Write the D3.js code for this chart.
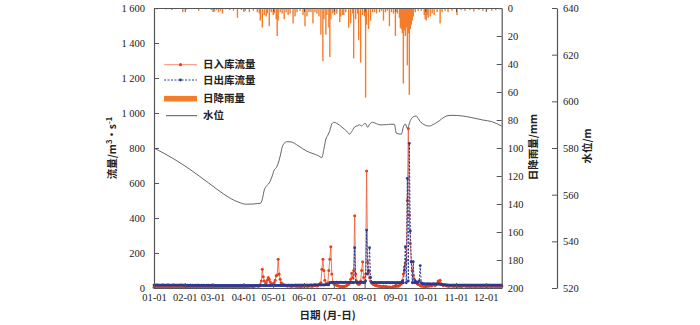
<!DOCTYPE html>
<html><head><meta charset="utf-8">
<script src="https://cdn.jsdelivr.net/npm/d3@7/dist/d3.min.js"></script>
<style>body{margin:0;background:#fff}svg{display:block}</style>
</head><body>
<svg id="c" width="700" height="325"></svg>
<script>
// ---- data ----
const monthLabels = ["01-01","02-01","03-01","04-01","05-01","06-01","07-01","08-01","09-01","10-01","11-01","12-01"];
const monthStartDays = [0,31,59,90,120,151,181,212,243,273,304,334];
const flowTicks = [0,200,400,600,800,1000,1200,1400,1600];
const flowTickLabels = ["0","200","400","600","800","1 000","1 200","1 400","1 600"];
const rainTicks = [0,20,40,60,80,100,120,140,160,180,200];
const levelTicks = [520,540,560,580,600,620,640];

// daily inflow (m3/s), from 01-01
const inflow = [
 5,5,4,5,6,5,4,4,5,5,6,5,4,5,5,4,5,6,5,5,4,4,5,5,6,5,4,5,5,4,5,
 4,5,5,4,4,5,6,5,4,5,5,4,4,5,5,6,5,4,4,5,5,4,5,5,4,5,6,5,
 5,4,5,5,6,5,4,4,5,6,5,5,4,5,5,6,5,4,5,5,6,6,5,5,4,5,6,6,5,6,7,
 7,6,8,8,7,9,10,12,10,9,8,10,12,15,12,10,12,20,40,107,65,40,20,30,45,60,50,35,25,20,
 25,30,45,70,75,164,80,50,30,25,20,18,15,15,12,12,15,12,10,10,12,14,12,10,10,12,10,10,9,10,12,
 12,15,12,10,10,12,14,12,10,12,15,18,15,12,15,20,25,30,107,165,100,45,25,20,30,100,164,236,80,35,
 25,20,18,15,15,12,10,8,8,10,8,10,12,15,20,22,30,50,84,60,100,413,80,40,25,20,25,40,100,150,60,
 30,80,668,150,90,60,40,30,25,20,18,15,15,12,12,10,10,8,8,10,8,6,8,6,5,6,5,5,6,8,10,
 12,15,12,10,15,20,25,40,80,120,140,160,500,912,417,255,150,100,70,50,40,30,25,20,18,15,12,12,10,10,
 10,10,12,10,12,15,12,15,20,18,15,20,25,40,30,45,25,20,15,18,20,15,12,12,10,12,15,12,10,10,12,
 12,10,10,12,10,8,10,12,15,12,10,10,12,10,8,10,10,12,10,10,8,10,12,10,10,8,10,10,12,10,
 10,8,10,12,10,10,8,10,12,10,8,10,10,8,10,10,10
];
// daily outflow (m3/s)
const outflow = [
 17,16,17,18,17,16,17,17,16,18,17,16,17,17,18,16,17,17,16,17,18,17,16,17,17,16,17,18,17,16,17,
 16,16,15,16,15,16,16,15,16,15,15,16,15,16,16,15,15,16,15,16,15,15,16,15,16,15,15,16,
 15,15,14,15,15,14,15,15,14,15,14,15,15,14,15,14,15,15,14,15,15,14,15,14,15,15,14,15,14,15,15,
 14,14,15,14,14,15,14,14,15,14,14,15,14,14,15,14,14,15,14,14,15,14,14,15,14,14,15,14,14,15,
 15,14,15,15,14,15,15,14,15,15,14,15,15,16,15,16,16,15,16,16,15,16,16,17,16,16,17,16,16,17,16,
 17,16,17,17,16,17,17,18,17,17,18,17,18,18,17,18,18,17,18,18,17,18,18,19,18,18,30,32,31,32,
 32,31,32,33,32,31,32,33,32,32,31,32,33,32,32,31,32,33,32,32,30,230,35,30,31,32,31,32,33,32,31,
 32,40,331,80,100,230,60,32,31,32,31,32,30,31,32,30,31,32,31,30,31,30,31,32,30,31,30,31,30,31,30,
 30,31,30,31,30,31,30,40,30,100,236,30,627,40,827,326,150,30,150,30,40,30,30,35,40,128,30,25,25,24,
 24,23,23,24,23,23,22,23,24,23,23,22,23,23,22,21,20,19,18,18,17,17,18,17,17,16,17,17,16,17,17,
 17,16,17,17,16,17,17,16,17,17,16,17,17,16,17,17,16,17,17,16,17,17,16,17,17,16,17,17,16,17,
 17,16,17,17,16,17,17,16,17,17,16,17,17,16,17,17,16
];
// daily rainfall (mm): day of year, amount
const rainDay = [3,8,12,18,22,29,33,38,45,52,58,61,63,65,67,69,72,76,80,84,88,92,96,100,104,106,107,109,111,113,114,116,118,120,121,123,124,125,127,129,131,133,135,137,140,142,144,147,150,152,154,156,158,160,162,164,166,168,170,171,173,174,176,177,178,180,182,184,187,188,190,191,193,196,198,200,201,203,205,206,208,210,212,213,214,216,218,220,222,224,227,229,231,233,235,237,239,241,243,245,247,248,249,250,251,252,253,254,255,256,257,258,259,260,261,263,266,269,272,273,274,275,276,278,280,282,285,288,290,293,296,300,305,309,313,318,322,327,331,336,340,344,348];
const rainMm = [1,0.6,1,1.5,0.8,3,1,0.8,2,1,1.5,2.5,1.5,3,2,4,1,1.5,2,7,1.5,2,3,2,3,4,9,14,5,6,4,13,3,5,4,8,20,9,3,4,8,3,5,4,11,6,3,2,5,13,6,3,3,11,3,4,6,19,38,8,19,5,14,35,8,4,5,4,10,6,5,5,3,14,11,4,36,8,4,23,39,5,6,64,12,15,9,3,3,4,3,2,9,3,2,13,3,4,20,4,7,14,15,18,54,16,20,14,41,18,62,15,12,9,6,3,2,2,5,8,9,5,7,6,4,5,3,11,3,2,3,2,5,1.5,2,1.5,2.5,1.5,2,1,2,1.5,1];
// water level (m)
const levelDay = [0,20,36,55,70,77,85,93,100,104,107,109,111,113,116,119,121,123,125,127,129,131,134,138,145,154,160,165,169,171,173,175,177,179,181,184,189,194,197,199,202,205,207,209,211,213,215,217,220,224,228,234,238,242,244,249,251,253,255,258,261,264,266,268,272,277,282,287,292,296,300,311,320,331,340,350];
const levelM = [580,575.3,570.9,565,560.3,558.4,556.8,555.9,556,556.2,556.3,558,562,563.6,565,568,570.6,571.5,573.4,576.5,580.3,582,582.7,582.6,581,578.6,577.6,576.8,575.9,579.5,583.8,585.5,587.5,590.3,591,590.6,589,587.2,585.9,587,589,589.6,590,589.4,590.2,590.5,588.9,590.2,591,590.4,589.9,590,590.2,590.1,586.3,585.9,589,590.3,588.4,591.7,593.4,593.7,592.6,591.3,590,589.4,590.3,591.6,593.2,593.9,594,593.7,593,592,591.3,589.4];

const legendItems = ["日入库流量","日出库流量","日降雨量","水位"];

// ---- layout ----
const L = 154, R = 501.7, T = 8, B = 288, LV = 557;
const numFont = "'Liberation Serif','Times New Roman',serif";
const cjkFont = "'Noto Sans CJK SC','Liberation Serif',serif";
const axisColor = "#555";

const svg = d3.select("#c");
const x = d3.scaleLinear().domain([0,350]).range([L,R]);
const yF = d3.scaleLinear().domain([0,1600]).range([B,T]);
const yR = d3.scaleLinear().domain([0,200]).range([T,B]);
const yL = d3.scaleLinear().domain([520,640]).range([B,T]);

// rain bars
svg.append("g").selectAll("rect").data(rainDay).join("rect")
  .attr("x", (d)=>x(d)-0.7).attr("y", yR(0))
  .attr("width", 1.4).attr("height", (d,i)=>yR(rainMm[i])-yR(0))
  .attr("fill", "#f47d2c");

// water level
svg.append("path").datum(levelDay)
  .attr("d", d3.line().x(d=>x(d)).y((d,i)=>yL(levelM[i])).curve(d3.curveMonotoneX))
  .attr("fill","none").attr("stroke","#555").attr("stroke-width",0.9);

// inflow
const gi = svg.append("g");
gi.append("path").datum(inflow)
  .attr("d", d3.line().x((d,i)=>x(i)).y(d=>yF(d)))
  .attr("fill","none").attr("stroke","#f0603c").attr("stroke-width",1).attr("stroke-opacity",0.85);
gi.selectAll("circle").data(inflow).join("circle")
  .attr("cx",(d,i)=>x(i)).attr("cy",d=>yF(d)).attr("r",1.5).attr("fill","#e8401e");

// outflow
const go = svg.append("g");
go.append("path").datum(outflow)
  .attr("d", d3.line().x((d,i)=>x(i)).y(d=>yF(d)))
  .attr("fill","none").attr("stroke","#2b3a92").attr("stroke-width",1).attr("stroke-dasharray","2,1.5");
go.selectAll("circle").data(outflow).join("circle")
  .attr("cx",(d,i)=>x(i)).attr("cy",d=>yF(d)).attr("r",1.4).attr("fill","#2b3a92");

// axes
function styleAxis(g){
  g.selectAll("path.domain").attr("stroke",axisColor).attr("stroke-width",1.2);
  g.selectAll(".tick line").attr("stroke",axisColor).attr("stroke-width",1);
  g.selectAll("text").attr("font-family",numFont).attr("font-size","10.5px").attr("fill","#222");
}
svg.append("g").attr("transform",`translate(${L},0)`)
  .call(d3.axisLeft(yF).tickValues(flowTicks).tickFormat((d,i)=>flowTickLabels[i]).tickSizeInner(-5).tickSizeOuter(0).tickPadding(9))
  .call(styleAxis);
svg.append("g").attr("transform",`translate(0,${B})`)
  .call(d3.axisBottom(x).tickValues(monthStartDays).tickFormat((d,i)=>monthLabels[i]).tickSizeInner(-5).tickSizeOuter(0).tickPadding(6))
  .call(styleAxis);
svg.append("g").attr("transform",`translate(0,${T})`)
  .call(d3.axisTop(x).tickValues(monthStartDays).tickFormat("").tickSizeInner(-4).tickSizeOuter(0))
  .call(styleAxis);
svg.append("g").attr("transform",`translate(${R},0)`)
  .call(d3.axisRight(yR).tickValues(rainTicks).tickSizeInner(-5).tickSizeOuter(0).tickPadding(6))
  .call(styleAxis);
svg.append("g").attr("transform",`translate(${LV},0)`)
  .call(d3.axisRight(yL).tickValues(levelTicks).tickSizeInner(-5).tickSizeOuter(0).tickPadding(6))
  .call(styleAxis);

// axis titles
const yt = svg.append("text").attr("transform",`translate(116,148) rotate(-90)`)
  .attr("text-anchor","middle").attr("font-family",cjkFont).attr("font-weight","bold").attr("font-size","10.5px").attr("fill","#222");
yt.append("tspan").text("流量/m");
yt.append("tspan").attr("dy",-4).attr("font-size","7.5px").text("3");
yt.append("tspan").attr("dy",4).text("·s");
yt.append("tspan").attr("dy",-4).attr("font-size","7.5px").text("-1");

svg.append("text").attr("transform",`translate(537,147) rotate(-90)`)
  .attr("text-anchor","middle").attr("font-family",cjkFont).attr("font-weight","bold").attr("font-size","10.5px").attr("fill","#222")
  .text("日降雨量/mm");
svg.append("text").attr("transform",`translate(591,146) rotate(-90)`)
  .attr("text-anchor","middle").attr("font-family",cjkFont).attr("font-weight","bold").attr("font-size","10.5px").attr("fill","#222")
  .text("水位/m");
svg.append("text").attr("x",327.5).attr("y",319).attr("text-anchor","middle")
  .attr("font-family",cjkFont).attr("font-weight","bold").attr("font-size","10.5px").attr("fill","#222").text("日期 (月-日)");

// legend
const lg = svg.append("g");
const rowsY = [64.7, 80, 98.7, 115.7];
lg.append("line").attr("x1",164).attr("x2",197).attr("y1",rowsY[0]).attr("y2",rowsY[0]).attr("stroke","#f0603c").attr("stroke-opacity",0.7);
lg.append("circle").attr("cx",180.5).attr("cy",rowsY[0]).attr("r",1.6).attr("fill","#e8401e");
lg.append("line").attr("x1",164).attr("x2",197).attr("y1",rowsY[1]).attr("y2",rowsY[1]).attr("stroke","#2b3a92").attr("stroke-dasharray","2,1.5");
lg.append("circle").attr("cx",180.5).attr("cy",rowsY[1]).attr("r",1.4).attr("fill","#2b3a92");
lg.append("rect").attr("x",164).attr("y",rowsY[2]-2.8).attr("width",33).attr("height",5.6).attr("fill","#f47d2c");
lg.append("line").attr("x1",166).attr("x2",197).attr("y1",rowsY[3]).attr("y2",rowsY[3]).attr("stroke","#555");
lg.selectAll("text").data(legendItems).join("text")
  .attr("x",203).attr("y",(d,i)=>rowsY[i]).attr("dy","0.36em")
  .attr("font-family",cjkFont).attr("font-weight","bold").attr("font-size","10.5px").attr("fill","#222").text(d=>d);
</script>
</body></html>
